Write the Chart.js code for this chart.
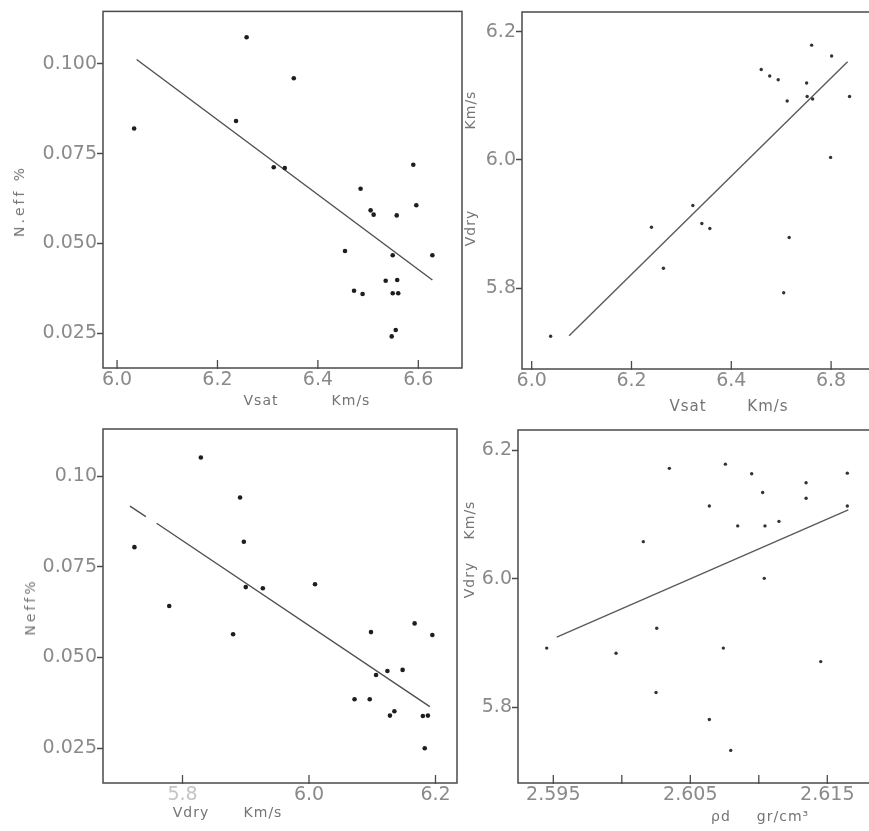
<!DOCTYPE html>
<html>
<head>
<meta charset="utf-8">
<script src="https://cdn.jsdelivr.net/npm/chart.js@4.4.1/dist/chart.umd.min.js"></script>
<style>
  html, body { margin:0; padding:0; background:#fff; width:869px; height:831px; overflow:hidden; }
  canvas { position:absolute; }
  .t { position:absolute; font-family:"DejaVu Sans", sans-serif; color:#747474; white-space:pre; transform:translate(-50%,-50%); font-size:14px; letter-spacing:1px; }
  .r { transform:translate(-50%,-50%) rotate(-90deg); }
</style>
</head>
<body>
<canvas id="c1" width="468" height="395" style="left:0;top:0"></canvas>
<canvas id="c2" width="420" height="395" style="left:466px;top:0"></canvas>
<canvas id="c3" width="462" height="410" style="left:0;top:400px"></canvas>
<canvas id="c4" width="424" height="410" style="left:462px;top:400px"></canvas>

<div class="t" style="left:261px;top:400px">Vsat</div>
<div class="t" style="left:351px;top:400px">Km/s</div>
<div class="t" style="left:688px;top:406px;font-size:15px">Vsat</div>
<div class="t" style="left:768px;top:406px;font-size:15px">Km/s</div>
<div class="t" style="left:191px;top:812px">Vdry</div>
<div class="t" style="left:263px;top:812px">Km/s</div>
<div class="t" style="left:721px;top:816px">ρd</div>
<div class="t" style="left:783px;top:816px">gr/cm³</div>
<div class="t r" style="left:19px;top:201px;letter-spacing:3px">N.eff %</div>
<div class="t r" style="left:470px;top:110px">Km/s</div>
<div class="t r" style="left:470px;top:228px">Vdry</div>
<div class="t r" style="left:30px;top:607px;letter-spacing:3px">Neff%</div>
<div class="t r" style="left:469px;top:520px">Km/s</div>
<div class="t r" style="left:469px;top:580px">Vdry</div>

<script>
// ---- Panel 1: Vsat (km/s) vs N eff (%)
const p1X = [6.034, 6.258, 6.237, 6.352, 6.312, 6.334, 6.485, 6.505, 6.511, 6.557, 6.590, 6.596, 6.454, 6.549, 6.628, 6.535, 6.558, 6.472, 6.489, 6.549, 6.560, 6.555, 6.547];
const p1Y = [0.082, 0.1074, 0.0841, 0.096, 0.0712, 0.071, 0.0652, 0.0592, 0.058, 0.0578, 0.0719, 0.0606, 0.0479, 0.0467, 0.0467, 0.0396, 0.0398, 0.0368, 0.0359, 0.0361, 0.0361, 0.0259, 0.0241];
const p1LineX = [6.039, 6.628];
const p1LineY = [0.1012, 0.0398];
const p1XTicks = [6.0, 6.2, 6.4, 6.6];
const p1XLabels = ["6.0", "6.2", "6.4", "6.6"];
const p1YTicks = [0.025, 0.050, 0.075, 0.100];
const p1YLabels = ["0.025", "0.050", "0.075", "0.100"];

// ---- Panel 2: Vsat (km/s) vs Vdry (km/s)
const p2X = [6.038, 6.240, 6.264, 6.323, 6.341, 6.357, 6.460, 6.477, 6.494, 6.512, 6.551, 6.552, 6.563, 6.561, 6.601, 6.637, 6.599, 6.516, 6.505];
const p2Y = [5.725, 5.895, 5.831, 5.929, 5.901, 5.893, 6.141, 6.131, 6.125, 6.092, 6.120, 6.099, 6.095, 6.179, 6.162, 6.099, 6.004, 5.879, 5.793];
const p2LineX = [6.075, 6.633];
const p2LineY = [5.726, 6.153];
const p2XTicks = [6.0, 6.2, 6.4, 6.6];
const p2XLabels = ["6.0", "6.2", "6.4", "6.8"];
const p2YTicks = [5.8, 6.0, 6.2];
const p2YLabels = ["5.8", "6.0", "6.2"];

// ---- Panel 3: Vdry (km/s) vs Neff (%)
const p3X = [5.829, 5.891, 5.897, 5.724, 5.779, 5.880, 5.900, 5.927, 6.0095, 6.098, 6.167, 6.195, 6.106, 6.124, 6.148, 6.072, 6.096, 6.128, 6.135, 6.180, 6.188, 6.183];
const p3Y = [0.1051, 0.0941, 0.0819, 0.0804, 0.0642, 0.0564, 0.0694, 0.0691, 0.0702, 0.0570, 0.0594, 0.0562, 0.0452, 0.0463, 0.0466, 0.0385, 0.0385, 0.0340, 0.0352, 0.0339, 0.0340, 0.0250];
const p3LineX = [5.717, 5.742, 5.750, 5.759, 6.191];
const p3LineY = [0.0917, 0.0888, null, 0.0870, 0.0365];
const p3XTicks = [5.8, 6.0, 6.2];
const p3XLabels = ["5.8", "6.0", "6.2"];
const p3YTicks = [0.025, 0.050, 0.075, 0.100];
const p3YLabels = ["0.025", "0.050", "0.075", "0.10"];

// ---- Panel 4: rho_d (gr/cm3) vs Vdry (km/s)
const p4X = [2.59452, 2.59958, 2.60157, 2.60347, 2.60255, 2.60250, 2.60639, 2.60756, 2.60741, 2.60639, 2.60795, 2.60846, 2.60948, 2.61028, 2.61045, 2.61147, 2.61040, 2.61345, 2.61345, 2.61452, 2.61646, 2.61646];
const p4Y = [5.892, 5.884, 6.0575, 6.1715, 5.923, 5.823, 6.113, 6.178, 5.892, 5.781, 5.733, 6.082, 6.163, 6.134, 6.082, 6.089, 6.0005, 6.149, 6.125, 5.871, 6.164, 6.113];
const p4LineX = [2.59525, 2.61653];
const p4LineY = [5.909, 6.107];
const p4XTicks = [2.595, 2.600, 2.605, 2.610, 2.615];
const p4XLabels = ["2.595", "", "2.605", "", "2.615"];
const p4YTicks = [5.8, 6.0, 6.2];
const p4YLabels = ["5.8", "6.0", "6.2"];

const AXIS = '#4a4a4a';
const LABEL = '#8a8a8a';
const FONT = { family: 'DejaVu Sans', size: 19 };

const pts = (xs, ys) => xs.map((x, i) => ({ x: x, y: ys[i] }));

const framePlugin = {
  id: 'frame',
  afterDraw(chart) {
    const { ctx, chartArea: a } = chart;
    const xs = chart.scales.x;
    ctx.save();
    ctx.strokeStyle = AXIS;
    ctx.lineWidth = 1.5;
    ctx.strokeRect(a.left, a.top, a.right - a.left, a.bottom - a.top);
    ctx.lineWidth = 1.3;
    xs.ticks.forEach(t => {
      const px = xs.getPixelForValue(t.value);
      ctx.beginPath();
      ctx.moveTo(px, a.bottom + 1);
      ctx.lineTo(px, a.bottom - 8);
      ctx.stroke();
    });
    ctx.restore();
  }
};

function panel(id, o) {
  new Chart(document.getElementById(id), {
    type: 'scatter',
    data: {
      datasets: [
        { data: pts(o.x, o.y), pointRadius: o.r, pointBackgroundColor: o.pc, pointBorderWidth: 0, showLine: false },
        { data: pts(o.lx, o.ly), showLine: true, spanGaps: false, pointRadius: 0, borderColor: o.lc, borderWidth: 1.4 }
      ]
    },
    options: {
      responsive: false,
      animation: false,
      events: [],
      layout: { autoPadding: false, padding: o.pad },
      plugins: { legend: { display: false }, tooltip: { enabled: false } },
      scales: {
        x: {
          type: 'linear', min: o.xmin, max: o.xmax,
          afterFit: s => { s.height = o.xh; },
          afterBuildTicks: s => { s.ticks = o.xt.map(v => ({ value: v })); },
          ticks: { callback: (v, i) => o.xl[i], font: FONT, color: o.xc || LABEL, padding: 1, maxRotation: 0, autoSkip: false },
          grid: { display: false, drawOnChartArea: false, drawTicks: false },
          border: { display: false }
        },
        y: {
          type: 'linear', min: o.ymin, max: o.ymax,
          afterFit: s => { s.width = o.yw; },
          afterBuildTicks: s => { s.ticks = o.yt.map(v => ({ value: v })); },
          ticks: { callback: (v, i) => o.yl[i], font: FONT, color: LABEL, padding: 0, autoSkip: false },
          grid: { display: true, drawOnChartArea: false, drawTicks: true, tickLength: 6, tickColor: AXIS, tickWidth: 1.5 },
          border: { display: false }
        }
      }
    },
    plugins: [framePlugin]
  });
}

panel('c1', {
  x: p1X, y: p1Y, lx: p1LineX, ly: p1LineY, r: 2.3, pc: '#1e1e1e', lc: '#505050',
  xt: p1XTicks, xl: p1XLabels, yt: p1YTicks, yl: p1YLabels,
  xmin: 5.972, xmax: 6.687, ymin: 0.0153, ymax: 0.1146,
  pad: { top: 10, right: 6, left: 0, bottom: 0 }, yw: 103, xh: 27
});
panel('c2', {
  x: p2X, y: p2Y, lx: p2LineX, ly: p2LineY, r: 1.7, pc: '#333', lc: '#5a5a5a',
  xt: p2XTicks, xl: p2XLabels, yt: p2YTicks, yl: p2YLabels,
  xmin: 5.9806, xmax: 6.698, ymin: 5.674, ymax: 6.2307,
  pad: { top: 12, right: 6, left: 0, bottom: 0 }, yw: 56, xh: 26
});
panel('c3', {
  x: p3X, y: p3Y, lx: p3LineX, ly: p3LineY, r: 2.3, pc: '#1e1e1e', lc: '#505050',
  xt: p3XTicks, xl: p3XLabels, yt: p3YTicks, yl: p3YLabels,
  xc: ctx => ctx.index === 0 ? '#c4c4c4' : LABEL,
  xmin: 5.6743, xmax: 6.234, ymin: 0.01544, ymax: 0.11295,
  pad: { top: 29, right: 5, left: 0, bottom: 0 }, yw: 103, xh: 27
});
panel('c4', {
  x: p4X, y: p4Y, lx: p4LineX, ly: p4LineY, r: 1.7, pc: '#333', lc: '#5a5a5a',
  xt: p4XTicks, xl: p4XLabels, yt: p4YTicks, yl: p4YLabels,
  xmin: 2.592423, xmax: 2.618846, ymin: 5.6823, ymax: 6.2311,
  pad: { top: 30, right: 6, left: 0, bottom: 0 }, yw: 56, xh: 27
});
</script>
</body>
</html>
